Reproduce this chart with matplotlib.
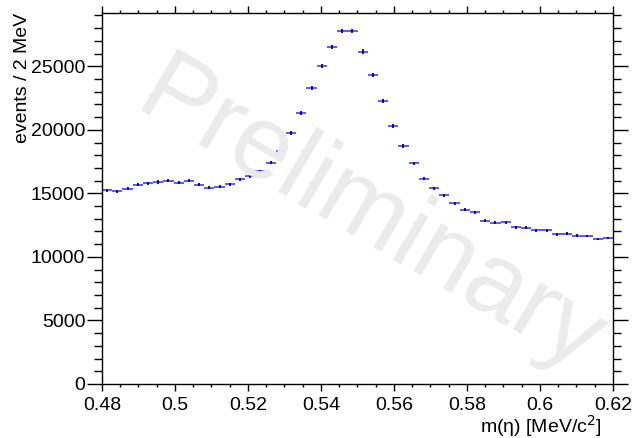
import numpy as np
import matplotlib
matplotlib.use("Agg")
import matplotlib.pyplot as plt
from matplotlib.ticker import MultipleLocator

plt.rcParams['font.family'] = ['Liberation Sans', 'DejaVu Sans']

# histogram: 50 bins between 0.48 and 0.62
x_lo = 0.48
x_hi = 0.62
n_bins = 50
counts = [15250, 15150, 15380, 15670, 15780, 15900, 15990, 15830, 15990, 15670,
          15440, 15510, 15700, 16090, 16330, 16745, 17420, 18340, 19760, 21300,
          23300, 25030, 26500, 27760, 27760, 26160, 24290, 22250, 20310, 18710,
          17350, 16140, 15390, 14840, 14210, 13700, 13500, 12840, 12680, 12710,
          12320, 12290, 12080, 12080, 11770, 11820, 11660, 11640, 11400, 11480]

edges = np.linspace(x_lo, x_hi, n_bins + 1)
centers = 0.5 * (edges[:-1] + edges[1:])
half_w = 0.5 * (edges[1] - edges[0])
counts = np.array(counts, dtype=float)
errs = np.sqrt(counts)

fig = plt.figure(figsize=(6.33, 4.38), dpi=100)
ax = fig.add_axes([102 / 633, 1 - 384 / 438, (613 - 102) / 633, (384 - 13) / 438])

# watermark
fig.text(356 / 633, 1 - 242 / 438, "Preliminary", fontsize=75, color="#ebebeb",
         rotation=-30.5, rotation_mode="anchor", ha="center", va="baseline", zorder=0)

ax.patch.set_alpha(0)
ax.errorbar(centers, counts, xerr=half_w, fmt="none", ecolor="#5a5aff", elinewidth=1.4)
ax.errorbar(centers, counts, yerr=errs, fmt="none", ecolor="#000090", elinewidth=1.3)

ax.set_xlim(x_lo, x_hi)
ax.set_ylim(0, 29190)
ax.xaxis.set_major_locator(MultipleLocator(0.02))
ax.xaxis.set_minor_locator(MultipleLocator(0.005))
ax.yaxis.set_major_locator(MultipleLocator(5000))
ax.yaxis.set_minor_locator(MultipleLocator(1000))
ax.xaxis.set_major_formatter(plt.FuncFormatter(lambda v, p: ("%g" % round(v, 3))))

fs = 14
ax.tick_params(axis="y", which="both", direction="out", left=True, right=True,
               labelsize=fs, pad=1, width=1)
ax.tick_params(axis="y", which="major", length=11)
ax.tick_params(axis="y", which="minor", length=6)
ax.tick_params(axis="x", which="both", direction="out", bottom=True, top=True,
               labelsize=fs, pad=4, width=1)
ax.tick_params(axis="x", which="major", length=5)
ax.tick_params(axis="x", which="minor", length=2.5)
for s in ax.spines.values():
    s.set_linewidth(1)

ax.set_xlabel("m(η) [MeV/c$^{2}$]", fontsize=fs, ha="right", x=0.978, labelpad=0)
ax.set_ylabel("events / 2 MeV", fontsize=fs, ha="right", y=1.0, labelpad=0)

fig.savefig("out.png", dpi=100)
